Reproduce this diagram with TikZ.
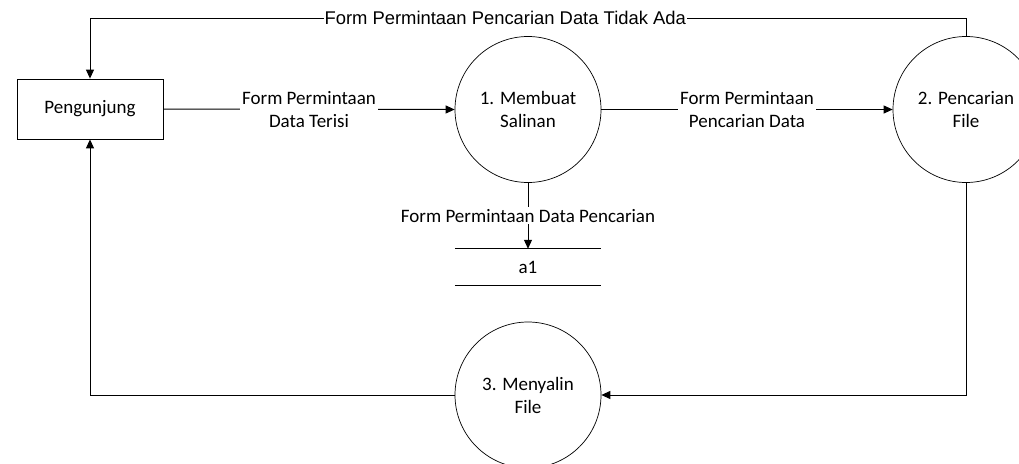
\documentclass[tikz,border=0pt]{standalone}
\usepackage{fontspec}
\setmainfont{Carlito}
\newfontfamily\arialfont{Liberation Sans}
\usetikzlibrary{arrows.meta}
\begin{document}
\begin{tikzpicture}[x=1pt,y=-1pt,
  font=\fontsize{19}{23}\selectfont,
  entity/.style={draw, line width=0.8pt, minimum width=146pt, minimum height=60pt, inner sep=0pt},
  proc/.style={draw, circle, line width=0.7pt, minimum size=146pt, inner sep=0pt, align=center},
  storebox/.style={minimum width=146pt, minimum height=36pt, inner sep=0pt},
  flow/.style={line width=1pt, -{Triangle[length=9pt,width=8pt]}},
  lbl/.style={fill=white, align=center, inner sep=2pt}
]
\useasboundingbox (0,0) rectangle (1019,463);
\fill[white] (0,0) rectangle (1019,463);
\node[entity] (peng) at (90,109) {Pengunjung};
\node[proc] (c1) at (528,109.5) {1. Membuat\\Salinan};
\node[proc] (c2) at (966,109.5) {2. Pencarian\\File};
\node[proc] (c3) at (528,395) {3. Menyalin\\File};
\node[storebox] (a1) at (528,267) {a1};
\draw[line width=0.8pt] (a1.north west) -- (a1.north east);
\draw[line width=0.8pt] (a1.south west) -- (a1.south east);

\draw[flow] (peng.east) -- node[lbl]{Form Permintaan\\Data Terisi} (c1.west);
\draw[flow] (c1.east) -- node[lbl]{Form Permintaan\\Pencarian Data} (c2.west);
\draw[flow] (c1.south) -- node[lbl]{Form Permintaan Data Pencarian} (a1.north);
\coordinate (tr) at (c2.north |- 0,18);
\coordinate (tl) at (peng.north |- 0,18);
\draw[flow] (c2.north) -- (tr) -- node[lbl, pos=0.526, font=\arialfont\fontsize{18.4}{22}\selectfont, inner sep=1pt]{Form Permintaan Pencarian Data Tidak Ada} (tl) -- (peng.north);
\draw[flow] (c2.south) |- (c3.east);
\draw[flow] (c3.west) -| (peng.south);
\end{tikzpicture}
\end{document}
